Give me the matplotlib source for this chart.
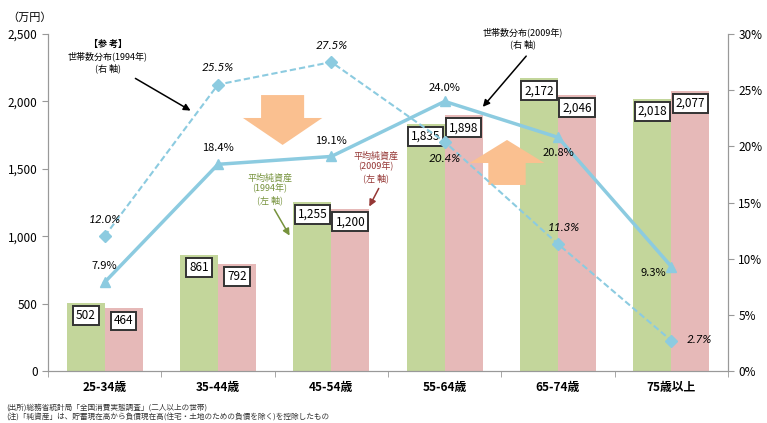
import matplotlib
matplotlib.use("Agg")
import matplotlib.pyplot as plt
import numpy as np
from matplotlib.ticker import FuncFormatter, FixedLocator

plt.rcParams['font.family'] = ['Noto Sans CJK JP', 'DejaVu Sans']

categories = ['25-34歳', '35-44歳', '45-54歳', '55-64歳', '65-74歳', '75歳以上']
assets_1994 = [502, 861, 1255, 1835, 2172, 2018]
assets_2009 = [464, 792, 1200, 1898, 2046, 2077]
hh_1994 = [12.0, 25.5, 27.5, 20.4, 11.3, 2.7]
hh_2009 = [7.9, 18.4, 19.1, 24.0, 20.8, 9.3]

GREEN = '#c3d69b'
PINK = '#e6b9b8'
BLUE = '#8ccbe0'
ORANGE = '#fac090'
W, H = 767, 423

fig = plt.figure(figsize=(W/100, H/100), dpi=100)
ax = fig.add_axes([48/W, 1-371/H, (728-48)/W, (371-34)/H])
ax2 = ax.twinx()

x = np.arange(len(categories))
bw = 0.335
ax.bar(x - bw/2, assets_1994, bw, color=GREEN, zorder=2)
ax.bar(x + bw/2, assets_2009, bw, color=PINK, zorder=2)

for xi, v in zip(x, assets_1994):
    ax.annotate(f'{v:,}', (xi - bw/2, v), xytext=(0, -9), textcoords='offset points',
                ha='center', va='center', fontsize=8.5, zorder=5,
                bbox=dict(boxstyle='square,pad=0.25', fc='white', ec='#333333', lw=1.4))
for xi, v in zip(x, assets_2009):
    ax.annotate(f'{v:,}', (xi + bw/2, v), xytext=(0, -9), textcoords='offset points',
                ha='center', va='center', fontsize=8.5, zorder=5,
                bbox=dict(boxstyle='square,pad=0.25', fc='white', ec='#333333', lw=1.4))

ax.set_xlim(-0.5, len(categories) - 0.5)
ax.set_ylim(0, 2500)
ax.set_yticks(np.arange(0, 2501, 500))
ax.yaxis.set_major_formatter(FuncFormatter(lambda v, p: f'{int(v):,}'))
ax.set_xticks(x)
ax.set_xticklabels(categories, fontsize=8.5, fontweight='bold')
ax.xaxis.set_minor_locator(FixedLocator(np.arange(-0.5, len(categories), 1.0)))
ax.tick_params(axis='x', which='major', length=0, pad=7)
ax.tick_params(axis='x', which='minor', length=4, color='#999999')
ax.tick_params(axis='y', labelsize=8.5, length=4, color='#999999')

ax2.set_ylim(0, 30)
ax2.set_yticks(np.arange(0, 31, 5))
ax2.yaxis.set_major_formatter(FuncFormatter(lambda v, p: f'{int(v)}%'))
ax2.tick_params(axis='y', labelsize=8.5, length=4, color='#999999')

for a in (ax, ax2):
    a.spines['top'].set_visible(False)
    for s in ('left', 'right', 'bottom'):
        a.spines[s].set_color('#999999')

# household lines
ax2.plot(x, hh_1994, color=BLUE, lw=1.5, ls=(0, (3, 1.5)), marker='D', ms=6, zorder=3)
ax2.plot(x, hh_2009, color=BLUE, lw=2.5, marker='^', ms=7.5, zorder=3)

# percent labels 1994 (italic)
off94 = [(0, 12), (0, 12), (0, 12), (0, -12), (4, 12), (20, 1)]
for xi, v, o in zip(x, hh_1994, off94):
    ax2.annotate(f'{v:.1f}%', (xi, v), xytext=o, textcoords='offset points',
                 ha='center', va='center', fontsize=8.5, style='italic',
                 family=['Lato', 'DejaVu Sans'], zorder=6)
off09 = [(0, 12), (0, 12), (0, 11), (0, 10), (0, -11), (-13, -5)]
for xi, v, o in zip(x, hh_2009, off09):
    ax2.annotate(f'{v:.1f}%', (xi, v), xytext=o, textcoords='offset points',
                 ha='center', va='center', fontsize=8, zorder=6)

fig.text(30/W, 1-18/H, '（万円）', ha='center', va='center', fontsize=8)

# big orange arrows (data coords of left axis)
def block_arrow(xc, y_tail, y_head_base, y_tip, shaft_hw, head_hw):
    xs = [xc - shaft_hw, xc + shaft_hw, xc + shaft_hw, xc + head_hw, xc, xc - head_hw, xc - shaft_hw]
    ys = [y_tail, y_tail, y_head_base, y_head_base, y_tip, y_head_base, y_head_base]
    ax.fill(xs, ys, color=ORANGE, zorder=4, lw=0)

block_arrow(1.57, 2047, 1877, 1677, 0.19, 0.35)
block_arrow(3.55, 1380, 1543, 1714, 0.165, 0.33)

def fp(px, py):
    return (px / W, 1 - py / H)

fs_ann = 6.5
fig.text(*fp(108, 44), '【参 考】', ha='center', va='center', fontsize=fs_ann, fontweight='bold')
fig.text(*fp(108, 62), '世帯数分布(1994年)\n(右 軸)', ha='center', va='center',
         fontsize=fs_ann, linespacing=1.25)
ax.annotate('', xy=fp(193, 112), xycoords='figure fraction', xytext=fp(133, 77),
            textcoords='figure fraction', arrowprops=dict(arrowstyle='-|>', color='black', lw=1.1))

fig.text(*fp(523, 38), '世帯数分布(2009年)\n(右 軸)', ha='center', va='center',
         fontsize=fs_ann, linespacing=1.25)
ax.annotate('', xy=fp(481, 109), xycoords='figure fraction', xytext=fp(528, 54),
            textcoords='figure fraction', arrowprops=dict(arrowstyle='-|>', color='black', lw=1.1))

OLIVE = '#76923c'
fig.text(*fp(270, 189), '平均純資産\n(1994年)\n(左 軸)', ha='center', va='center',
         fontsize=fs_ann, color=OLIVE, linespacing=1.2)
ax.annotate('', xy=fp(291, 238), xycoords='figure fraction', xytext=fp(273, 207),
            textcoords='figure fraction', arrowprops=dict(arrowstyle='-|>', color=OLIVE, lw=1.1))

DRED = '#953735'
fig.text(*fp(376, 167), '平均純資産\n(2009年)\n(左 軸)', ha='center', va='center',
         fontsize=fs_ann, color=DRED, linespacing=1.2)
ax.annotate('', xy=fp(368, 209), xycoords='figure fraction', xytext=fp(380, 186),
            textcoords='figure fraction', arrowprops=dict(arrowstyle='-|>', color=DRED, lw=1.1))

fig.text(*fp(6, 408), '(出所)総務省統計局「全国消費実態調査」(二人以上の世帯)', ha='left', va='center',
         fontsize=5.5, color='#333333')
fig.text(*fp(6, 417), '(注)「純資産」は、貯蓄現在高から負債現在高(住宅・土地のための負債を除く)を控除したもの',
         ha='left', va='center', fontsize=5.5, color='#333333')

fig.savefig('out.png', dpi=100)
